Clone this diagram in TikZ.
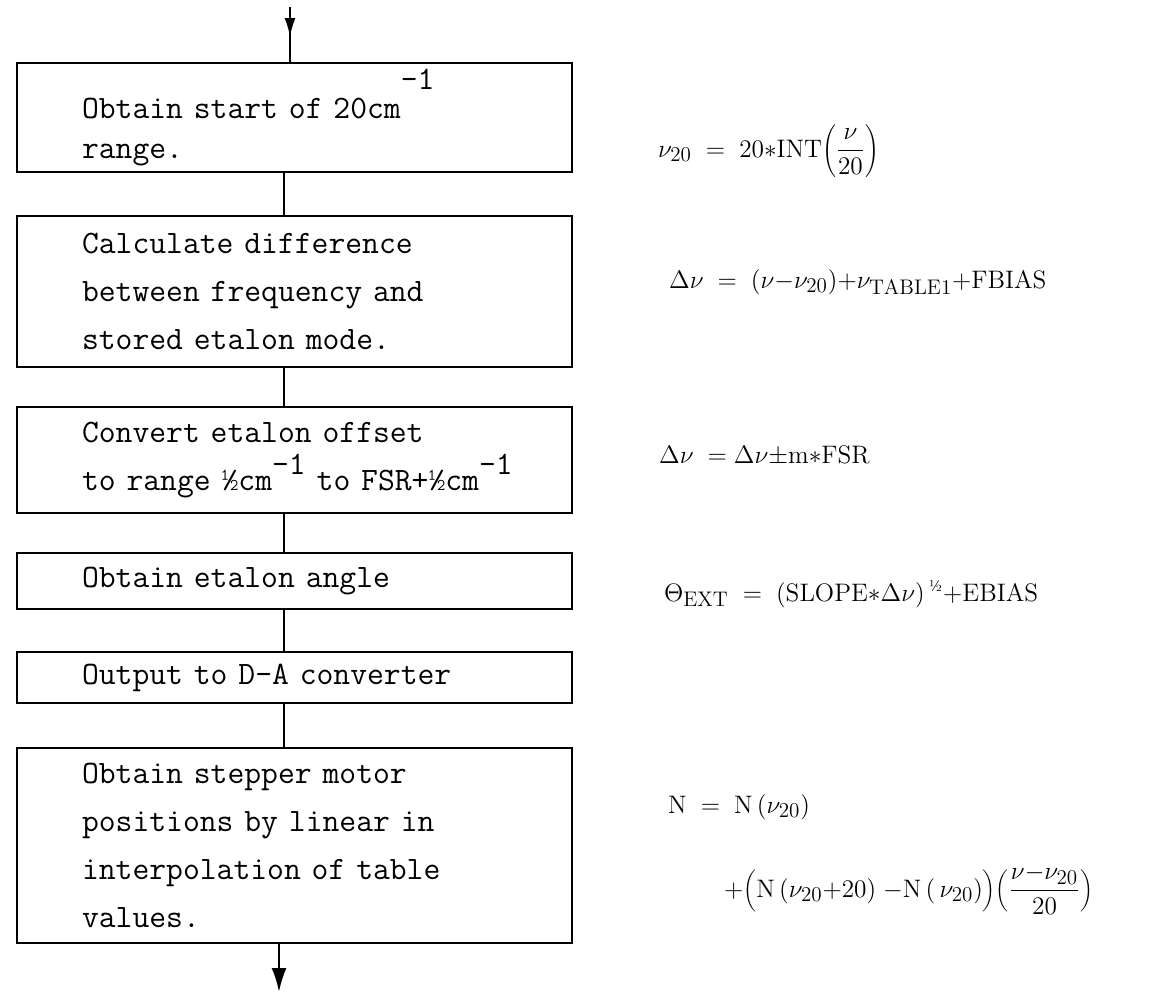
\documentclass[tikz,border=0pt]{standalone}
\usepackage{fontspec}
\usetikzlibrary{arrows.meta}
\DeclareMathSizes{14.4}{14.4}{12}{10}
\begin{document}
\begin{tikzpicture}[x=0.02cm,y=-0.02cm,line width=1.3pt,
  procbox/.style={draw,rectangle,align=left,text width=8.5cm,inner xsep=1.3cm,inner ysep=0pt,font=\fontsize{18.6}{27.3}\selectfont\ttfamily},
  eqn/.style={anchor=base west,inner sep=0pt,font=\Large}]
\fill[white] (0,0) rectangle (1158,992); \useasboundingbox (0,0) rectangle (1158,992);
% process boxes
\node[procbox,minimum height=2.18cm] (b1) at (294.5,117.5) {Obtain start of 20cm\raisebox{0.9em}{-1}\\[-0.16cm]range.};
\node[procbox,minimum height=3.02cm] (b2) at (294.5,291.5) {Calculate difference\\between frequency and\\stored etalon mode.};
\node[procbox,minimum height=2.12cm] (b3) at (294.5,460) {Convert etalon offset\\\mbox{to range ½cm\raisebox{0.5em}{-1} to FSR+½cm\raisebox{0.5em}{-1}}};
\node[procbox,minimum height=1.12cm] (b4) at (294.5,581) {Obtain etalon angle};
\node[procbox,minimum height=1.02cm] (b5) at (294.5,677.5) {Output to D-A converter};
\node[procbox,minimum height=3.9cm] (b6) at (294.5,845.5) {Obtain stepper motor\\positions by linear in\\interpolation of table\\values.};
% formulas
\node[eqn] (f1) at (657,157) {$\nu_{20} \;=\; 20{*}\mathrm{INT}\!\left(\displaystyle\frac{\nu}{20}\right)$};
\node[eqn] (f2) at (668,288) {$\Delta\nu \;=\; (\nu{-}\nu_{20}){+}\nu_{\mathrm{TABLE1}}{+}\mathrm{FBIAS}$};
\node[eqn] (f3) at (658,463) {$\Delta\nu \;=\Delta\nu{\pm}\mathrm{m}{*}\mathrm{FSR}$};
\node[eqn] (f4) at (663,601) {$\Theta_{\mathrm{EXT}} \;=\; (\mathrm{SLOPE}{*}\Delta\nu)\,^{\mbox{\small ½}}{+}\mathrm{EBIAS}$};
\node[eqn] (f5a) at (667,813) {$\mathrm{N} \;=\; \mathrm{N}\,(\nu_{20})$};
\node[eqn] (f5b) at (723,897) {${+}\biggl(\mathrm{N}\,(\nu_{20}{+}20)\;{-}\mathrm{N}\,(\,\nu_{20})\biggr)\biggl(\displaystyle\frac{\nu{-}\nu_{20}}{20}\biggr)$};
% flow lines
\coordinate (in) at (290,7); \coordinate (spine) at (284,0); \coordinate (out) at (279,992);
\draw[-{Latex[length=0.38cm,width=0.22cm]}] (in) -- ++(0,30); \draw (in) -- (b1.north -| in);
\foreach \A/\B in {b1/b2,b2/b3,b3/b4,b4/b5,b5/b6}{\draw (\A.south -| spine) -- (\B.north -| spine);}
\draw[-{Latex[length=0.48cm,width=0.3cm]}] (b6.south -| out) -- (out);
\end{tikzpicture}
\end{document}
